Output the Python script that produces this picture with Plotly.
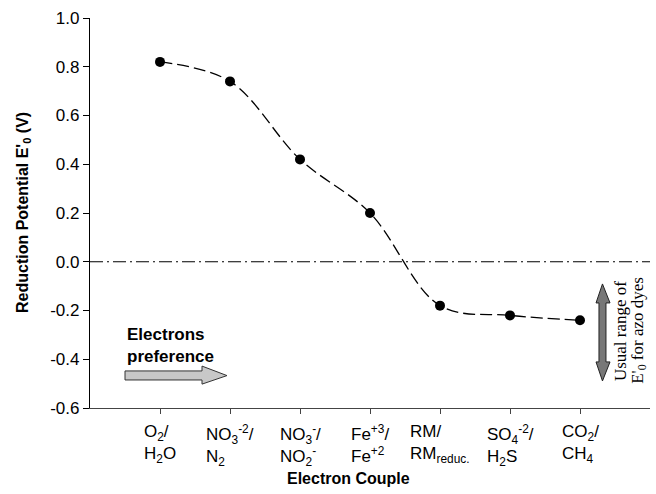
import plotly.graph_objects as go

# ---- data ----
couples = ["O<sub>2</sub>/<br>H<sub>2</sub>O",
           "NO<sub>3</sub><sup>-2</sup>/<br>N<sub>2</sub>",
           "NO<sub>3</sub><sup>-</sup>/<br>NO<sub>2</sub><sup>-</sup>",
           "Fe<sup>+3</sup>/<br>Fe<sup>+2</sup>",
           "RM/<br>RM<sub>reduc.</sub>",
           "SO<sub>4</sub><sup>-2</sup>/<br>H<sub>2</sub>S",
           "CO<sub>2</sub>/<br>CH<sub>4</sub>"]
positions = [1, 2, 3, 4, 5, 6, 7]
potentials = [0.82, 0.74, 0.42, 0.20, -0.18, -0.22, -0.24]
y_ticks = [-0.6, -0.4, -0.2, 0.0, 0.2, 0.4, 0.6, 0.8, 1.0]
y_ticktext = ["-0.6", "-0.4", "-0.2", "0.0", "0.2", "0.4", "0.6", "0.8", "1.0"]

FONT = "Liberation Sans, Arial, Helvetica, sans-serif"
SERIF = "Liberation Serif, Times New Roman, serif"

fig = go.Figure()
fig.add_trace(go.Scatter(
    x=positions, y=potentials, mode="lines+markers",
    line=dict(color="black", width=1.3, shape="spline", smoothing=1.0, dash="12px,5px"),
    marker=dict(color="black", size=10),
    showlegend=False, hoverinfo="skip"))

shapes = []
# zero reference line (dash-dot)
shapes.append(dict(type="line", xref="paper", x0=0, x1=1, yref="y", y0=0, y1=0,
                   line=dict(color="black", width=1.2, dash="13px,4px,2px,4px")))
# horizontal "electrons preference" arrow (data coordinates)
shapes.append(dict(type="path", xref="x", yref="y",
                   path="M 0.5,-0.448 L 1.6,-0.448 L 1.6,-0.428 L 1.957,-0.467 "
                        "L 1.6,-0.502 L 1.6,-0.485 L 0.5,-0.485 Z",
                   fillcolor="#c8c8c8", line=dict(color="#333", width=1)))
# vertical double arrow
shapes.append(dict(type="path", xref="x", yref="y",
                   path="M 7.321,-0.091 L 7.429,-0.169 L 7.371,-0.169 L 7.371,-0.411 "
                        "L 7.429,-0.411 L 7.321,-0.489 L 7.229,-0.411 L 7.271,-0.411 "
                        "L 7.271,-0.169 L 7.229,-0.169 Z",
                   fillcolor="#777777", line=dict(color="#222", width=1)))

annotations = []
for p, t in zip(positions, couples):
    annotations.append(dict(x=p, xref="x", y=0, yref="paper", yanchor="top", xanchor="center",
                            yshift=-12, text=t, showarrow=False, align="left",
                            font=dict(family=FONT, size=17, color="black")))
annotations.append(dict(x=0.5, xref="x", y=-0.345, yref="y", xanchor="left", yanchor="middle",
                        text="<b>Electrons<br>preference</b>", showarrow=False, align="left",
                        font=dict(family=FONT, size=17, color="black")))
annotations.append(dict(x=7.57, xref="x", y=-0.285, yref="y", xanchor="center", yanchor="middle",
                        text="Usual range of", textangle=-90, showarrow=False,
                        font=dict(family=SERIF, size=17, color="black")))
annotations.append(dict(x=7.84, xref="x", y=-0.28, yref="y", xanchor="center", yanchor="middle",
                        text="E'<sub>0</sub> for azo dyes", textangle=-90, showarrow=False,
                        font=dict(family=SERIF, size=17, color="black")))
# axis titles
annotations.append(dict(x=0.461, xref="paper", y=-(478 - 408) / 390, yref="paper", showarrow=False,
                        text="<b>Electron Couple</b>", xanchor="center", yanchor="middle",
                        font=dict(family=FONT, size=16, color="black")))
annotations.append(dict(x=-(90 - 23) / 560, xref="paper", y=0.5, yref="paper", showarrow=False,
                        text="<b>Reduction Potential E'<sub>0</sub> (V)</b>", textangle=-90,
                        xanchor="center", yanchor="middle",
                        font=dict(family=FONT, size=16, color="black")))

fig.update_layout(
    width=656, height=494,
    margin=dict(l=90, r=6, t=18, b=86, autoexpand=False),
    paper_bgcolor="white", plot_bgcolor="white",
    font=dict(family=FONT, size=17, color="black"),
    shapes=shapes, annotations=annotations,
    xaxis=dict(range=[0, 8], tickvals=positions, showticklabels=False, automargin=False,
               ticks="outside", ticklen=5, tickcolor="#444", showline=True,
               linecolor="#444", linewidth=1.3, showgrid=False, zeroline=False),
    yaxis=dict(range=[-0.6, 1.0], tickvals=y_ticks, ticktext=y_ticktext, automargin=False,
               ticks="outside", ticklen=6, tickcolor="black", showline=True,
               linecolor="black", linewidth=1.3, showgrid=False, zeroline=False,
               tickfont=dict(size=17)),
)

fig.write_html("out.html", config={"displayModeBar": False},
               post_script="document.body.style.margin='0';document.body.style.overflow='hidden';")
